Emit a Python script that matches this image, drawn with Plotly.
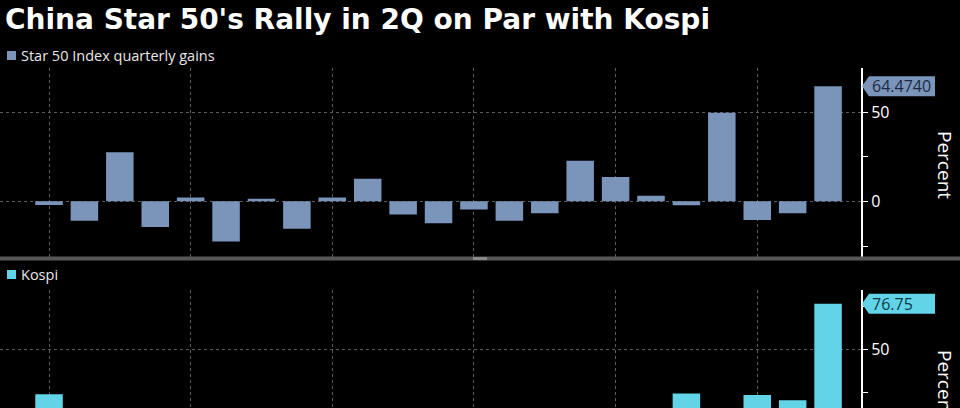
import plotly.graph_objects as go

quarters = ["4Q20", "1Q21", "2Q21", "3Q21", "4Q21", "1Q22", "2Q22", "3Q22", "4Q22",
            "1Q23", "2Q23", "3Q23", "4Q23", "1Q24", "2Q24", "3Q24", "4Q24",
            "1Q25", "2Q25", "3Q25", "4Q25", "1Q26", "2Q26"]
star50 = [-2.1, -10.9, 27.5, -14.4, 2.1, -22.5, 1.5, -15.4, 2.1, 12.7, -7.3, -12.2,
          -4.5, -10.9, -6.7, 22.7, 13.7, 3.2, -2.2, 49.6, -10.5, -6.7, 64.474]
kospi = [24.1, 6.5, 7.7, -6.9, -3.0, -7.4, -15.4, -7.6, 3.7, 10.8, 3.5, -3.9,
         7.7, 3.4, 1.9, -7.3, -7.5, 3.4, 24.6, 11.5, 23.7, 20.6, 76.75]
star_label = "64.4740"
kospi_label = "76.75"

STAR_C = "#7b94ba"
KOSPI_C = "#62d4e8"
GRID_C = "#5c5c5c"
FONT = "Open Sans"

W, H = 960, 408
PW = 861
top_dom = [1 - 258.5 / H, 1 - 68 / H]
bot_dom = [0, 1 - 290 / H]
xrange_ = [-1.384, 22.93]
grid_ticks = [quarters[i] for i in range(0, len(quarters), 4)]

fig = go.Figure()
fig.add_trace(go.Bar(x=quarters, y=star50, marker=dict(color=STAR_C, line_width=0),
                     xaxis="x", yaxis="y", showlegend=False, hoverinfo="skip"))
fig.add_trace(go.Bar(x=quarters, y=kospi, marker=dict(color=KOSPI_C, line_width=0),
                     xaxis="x2", yaxis="y2", showlegend=False, hoverinfo="skip"))

xcommon = dict(type="category", range=xrange_, tickmode="array", tickvals=grid_ticks,
               showticklabels=False, showgrid=True, gridcolor=GRID_C, griddash="dot",
               gridwidth=1, zeroline=False, ticks="")

fig.update_layout(
    width=W, height=H, paper_bgcolor="black", plot_bgcolor="black",
    margin=dict(l=0, r=W - PW, t=0, b=0), bargap=0.223,
    font=dict(family=FONT, color="white"),
    xaxis=dict(**xcommon, domain=[0, 1], anchor="y", showline=False),
    xaxis2=dict(**xcommon, domain=[0, 1], anchor="y2", showline=False),
    yaxis=dict(domain=top_dom, range=[-32, 74.7], side="right", anchor="x",
               tickmode="array", tickvals=[0, 50], ticktext=["0", "50"],
               ticks="outside", ticklen=5, tickcolor="white", tickwidth=1,
               minor=dict(tickvals=[-25, 25], ticks="outside", ticklen=5,
                          tickcolor="white", showgrid=False),
               showgrid=True, gridcolor=GRID_C, griddash="dot", zeroline=False,
               showline=True, linecolor="white", linewidth=2,
               tickfont=dict(size=16, color="white", family=FONT)),
    yaxis2=dict(domain=bot_dom, range=[16.1, 84.7], side="right", anchor="x2",
                tickmode="array", tickvals=[50], ticktext=["50"],
                ticks="outside", ticklen=5, tickcolor="white", tickwidth=1,
                minor=dict(tickvals=[25, 75], ticks="outside", ticklen=5,
                           tickcolor="white", showgrid=False),
                showgrid=True, gridcolor=GRID_C, griddash="dot", zeroline=False,
                showline=True, linecolor="white", linewidth=2,
                tickfont=dict(size=16, color="white", family=FONT)),
)

# separator line between panels, with small drag handle
fig.add_shape(type="line", xref="paper", yref="paper", x0=0, x1=W / PW,
              y0=top_dom[0], y1=top_dom[0], line=dict(color="#585858", width=4))
fig.add_shape(type="rect", xref="paper", yref="paper", x0=473 / PW, x1=487 / PW,
              y0=top_dom[0] - 1.5 / H, y1=top_dom[0] + 1.5 / H,
              fillcolor="#8a8a8a", line=dict(width=0))

# value tags
def tag(yref, value, text, fill, tcolor):
    fig.add_shape(type="path", xref="paper", yref=yref, xanchor=1, yanchor=value,
                  xsizemode="pixel", ysizemode="pixel",
                  path="M 1,0 L 8,10 L 74,10 L 74,-10 L 8,-10 Z",
                  fillcolor=fill, line=dict(width=0), layer="above")
    fig.add_annotation(xref="paper", yref=yref, x=1, xshift=9, y=value, text=text,
                       showarrow=False, xanchor="left", yanchor="middle",
                       font=dict(size=16, color=tcolor, family=FONT))

tag("y", star50[-1], star_label, STAR_C, "#1b2a44")
tag("y2", kospi[-1], kospi_label, KOSPI_C, "#0c3a48")

# title
fig.add_annotation(xref="paper", yref="paper", x=0, xshift=3, y=1 - 19 / H,
                   text="<b>China Star 50's Rally in 2Q on Par with Kospi</b>",
                   showarrow=False, xanchor="left", yanchor="middle",
                   font=dict(size=28, color="white", family="DejaVu Sans"))

# legends
for ytop, col, txt in [(51, STAR_C, "Star 50 Index quarterly gains"), (270, KOSPI_C, "Kospi")]:
    fig.add_shape(type="rect", xref="paper", yref="paper", x0=7 / PW, x1=16 / PW,
                  y0=1 - (ytop + 9) / H, y1=1 - ytop / H, fillcolor=col, line=dict(width=0))
    fig.add_annotation(xref="paper", yref="paper", x=19 / PW, y=1 - (ytop + 4.5) / H,
                       text=txt, showarrow=False, xanchor="left", yanchor="middle",
                       font=dict(size=14.5, color="#e8e8e8", family=FONT))

# axis titles
for yc in [165, 384]:
    fig.add_annotation(xref="paper", yref="paper", x=945 / PW, y=1 - yc / H,
                       text="Percent", textangle=90, showarrow=False,
                       xanchor="center", yanchor="middle",
                       font=dict(size=19, color="white", family=FONT))

fig.write_html("out.html", config={"displayModeBar": False},
               post_script="document.body.style.margin='0';document.body.style.background='black';")
